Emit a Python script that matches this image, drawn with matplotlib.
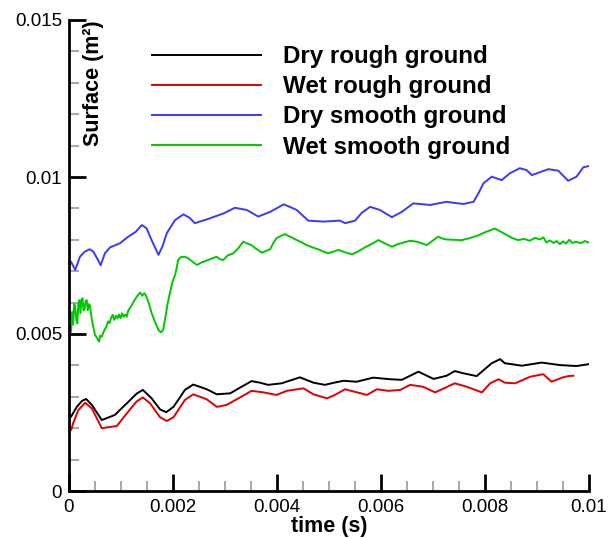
import matplotlib
matplotlib.use("Agg")
import matplotlib.pyplot as plt
from matplotlib.ticker import MultipleLocator

plt.rcParams['font.family'] = ['Liberation Sans', 'DejaVu Sans']

# Dry smooth ground
t_dry_smooth = [0.00000, 0.00004, 0.00012, 0.00021, 0.00030, 0.00040, 0.00047, 0.00055, 0.00061, 0.00069,
                0.00079, 0.00098, 0.00114, 0.00128, 0.00140, 0.00149, 0.00160, 0.00172, 0.00180, 0.00188,
                0.00204, 0.00220, 0.00232, 0.00242, 0.00265, 0.00297, 0.00319, 0.00342, 0.00364, 0.00387,
                0.00413, 0.00438, 0.00460, 0.00489, 0.00510, 0.00521, 0.00531, 0.00550, 0.00563, 0.00579,
                0.00598, 0.00621, 0.00640, 0.00662, 0.00694, 0.00726, 0.00758, 0.00778, 0.00788, 0.00797,
                0.00813, 0.00832, 0.00848, 0.00867, 0.00880, 0.00890, 0.00922, 0.00941, 0.00960, 0.00976,
                0.00989, 0.01000]
s_dry_smooth = [7.15, 7.30, 7.04, 7.46, 7.62, 7.70, 7.62, 7.38, 7.19, 7.57,
                7.76, 7.89, 8.10, 8.25, 8.47, 8.37, 7.95, 7.52, 7.80, 8.21,
                8.63, 8.81, 8.70, 8.53, 8.65, 8.84, 9.02, 8.95, 8.74, 8.89,
                9.13, 8.95, 8.61, 8.58, 8.60, 8.61, 8.53, 8.61, 8.86, 9.05,
                8.95, 8.72, 8.89, 9.16, 9.11, 9.21, 9.14, 9.21, 9.50, 9.80,
                10.01, 9.90, 10.12, 10.28, 10.22, 10.06, 10.25, 10.20, 9.88, 10.01,
                10.31, 10.35]

# Wet smooth ground (noisy signal)
t_wet_smooth = [0.00000, 0.00002, 0.00004, 0.00006, 0.00008, 0.00010, 0.00012, 0.00014, 0.00016, 0.00018,
                0.00020, 0.00022, 0.00024, 0.00026, 0.00028, 0.00030, 0.00032, 0.00034, 0.00036, 0.00038,
                0.00040, 0.00042, 0.00044, 0.00047, 0.00050, 0.00053, 0.00056, 0.00058, 0.00060, 0.00063,
                0.00066, 0.00069, 0.00072, 0.00075, 0.00078, 0.00081, 0.00084, 0.00087, 0.00090, 0.00093,
                0.00096, 0.00099, 0.00102, 0.00105, 0.00108, 0.00111, 0.00114, 0.00117, 0.00121, 0.00125,
                0.00129, 0.00133, 0.00137, 0.00141, 0.00145, 0.00149, 0.00154, 0.00159, 0.00165, 0.00172,
                0.00177, 0.00181, 0.00186, 0.00190, 0.00194, 0.00199, 0.00204, 0.00207, 0.00210, 0.00215,
                0.00223, 0.00230, 0.00238, 0.00246, 0.00255, 0.00265, 0.00274, 0.00284, 0.00290, 0.00297,
                0.00305, 0.00316, 0.00325, 0.00335, 0.00343, 0.00351, 0.00361, 0.00371, 0.00379, 0.00387,
                0.00393, 0.00399, 0.00407, 0.00415, 0.00425, 0.00438, 0.00447, 0.00457, 0.00468, 0.00479,
                0.00490, 0.00499, 0.00508, 0.00518, 0.00531, 0.00544, 0.00555, 0.00566, 0.00580, 0.00595,
                0.00608, 0.00621, 0.00632, 0.00643, 0.00656, 0.00669, 0.00680, 0.00688, 0.00700, 0.00710,
                0.00718, 0.00726, 0.00740, 0.00755, 0.00770, 0.00784, 0.00800, 0.00819, 0.00830, 0.00842,
                0.00853, 0.00864, 0.00875, 0.00886, 0.00896, 0.00906, 0.00912, 0.00918, 0.00925, 0.00932,
                0.00938, 0.00944, 0.00950, 0.00956, 0.00962, 0.00968, 0.00976, 0.00984, 0.00992, 0.01000]
s_wet_smooth = [5.00, 5.60, 5.07, 5.70, 5.30, 5.95, 5.87, 5.45, 5.34, 5.95,
                6.08, 5.66, 6.10, 6.14, 5.75, 5.82, 6.05, 6.08, 5.76, 5.95,
                5.92, 5.70, 5.45, 5.20, 4.97, 4.90, 4.80, 4.76, 4.95, 4.91,
                5.05, 5.15, 5.23, 5.40, 5.35, 5.52, 5.61, 5.45, 5.58, 5.50,
                5.62, 5.50, 5.66, 5.55, 5.62, 5.55, 5.75, 5.82, 5.92, 6.05,
                6.15, 6.25, 6.32, 6.22, 6.30, 6.19, 5.95, 5.66, 5.40, 5.13,
                5.05, 5.13, 5.60, 6.00, 6.30, 6.65, 6.88, 7.10, 7.36, 7.45,
                7.46, 7.40, 7.30, 7.20, 7.28, 7.34, 7.40, 7.46, 7.38, 7.36,
                7.50, 7.57, 7.72, 7.94, 7.88, 7.83, 7.70, 7.59, 7.65, 7.70,
                7.90, 8.05, 8.12, 8.18, 8.10, 7.99, 7.92, 7.83, 7.76, 7.70,
                7.62, 7.57, 7.62, 7.68, 7.60, 7.54, 7.62, 7.73, 7.85, 7.99,
                7.88, 7.78, 7.86, 7.91, 7.97, 7.94, 7.88, 7.83, 7.98, 8.10,
                8.04, 8.01, 8.00, 7.99, 8.05, 8.12, 8.24, 8.36, 8.26, 8.15,
                8.05, 7.99, 8.03, 7.97, 8.06, 8.01, 8.08, 7.92, 7.98, 7.90,
                7.96, 7.86, 7.95, 7.88, 8.00, 7.90, 7.94, 7.89, 7.96, 7.91]

# Dry rough ground
t_dry_rough = [0.00000, 0.00004, 0.00015, 0.00025, 0.00033, 0.00044, 0.00063, 0.00088, 0.00111, 0.00130,
               0.00142, 0.00159, 0.00175, 0.00187, 0.00201, 0.00223, 0.00239, 0.00265, 0.00284, 0.00310,
               0.00332, 0.00351, 0.00367, 0.00383, 0.00409, 0.00444, 0.00470, 0.00492, 0.00510, 0.00528,
               0.00553, 0.00585, 0.00617, 0.00640, 0.00672, 0.00701, 0.00726, 0.00742, 0.00758, 0.00784,
               0.00813, 0.00829, 0.00838, 0.00871, 0.00909, 0.00944, 0.00976, 0.01000]
s_dry_rough = [2.30, 2.37, 2.68, 2.87, 2.93, 2.74, 2.26, 2.42, 2.79, 3.10,
               3.22, 2.95, 2.60, 2.51, 2.68, 3.22, 3.39, 3.24, 3.08, 3.11,
               3.32, 3.50, 3.45, 3.38, 3.43, 3.62, 3.45, 3.38, 3.45, 3.51,
               3.48, 3.61, 3.56, 3.54, 3.80, 3.57, 3.67, 3.82, 3.75, 3.66,
               4.07, 4.20, 4.07, 3.99, 4.09, 4.01, 3.98, 4.04]

# Wet rough ground
t_wet_rough = [0.00000, 0.00004, 0.00008, 0.00018, 0.00031, 0.00044, 0.00063, 0.00092, 0.00111, 0.00130,
               0.00142, 0.00156, 0.00175, 0.00188, 0.00201, 0.00223, 0.00239, 0.00265, 0.00284, 0.00303,
               0.00329, 0.00351, 0.00374, 0.00399, 0.00419, 0.00451, 0.00470, 0.00496, 0.00510, 0.00531,
               0.00573, 0.00592, 0.00614, 0.00637, 0.00656, 0.00681, 0.00704, 0.00742, 0.00765, 0.00794,
               0.00810, 0.00826, 0.00838, 0.00858, 0.00887, 0.00912, 0.00928, 0.00950, 0.00960, 0.00970]
s_wet_rough = [1.90, 1.94, 2.16, 2.58, 2.81, 2.63, 2.00, 2.07, 2.47, 2.85,
               2.98, 2.79, 2.35, 2.23, 2.35, 2.90, 3.08, 2.92, 2.68, 2.74,
               2.98, 3.19, 3.14, 3.06, 3.19, 3.27, 3.08, 2.95, 3.05, 3.24,
               3.06, 3.24, 3.19, 3.22, 3.38, 3.32, 3.14, 3.43, 3.32, 3.14,
               3.43, 3.56, 3.45, 3.43, 3.64, 3.72, 3.48, 3.62, 3.66, 3.67]

series = [
    ("Dry rough ground", t_dry_rough, s_dry_rough, "#000000"),
    ("Wet rough ground", t_wet_rough, s_wet_rough, "#e00000"),
    ("Dry smooth ground", t_dry_smooth, s_dry_smooth, "#3a3aff"),
    ("Wet smooth ground", t_wet_smooth, s_wet_smooth, "#00c800"),
]

fig = plt.figure(figsize=(6.14, 5.38), dpi=100)
ax = fig.add_axes([69 / 614, 1 - 491 / 538, 520 / 614, 471 / 538])

for label, t, s, color in series:
    ax.plot(t, [v * 1e-3 for v in s], color=color, lw=1.4, label=label)

ax.set_xlim(0, 0.01)
ax.set_ylim(0, 0.015)

for side in ("top", "right"):
    ax.spines[side].set_visible(False)
for side in ("left", "bottom"):
    ax.spines[side].set_linewidth(2)

ax.xaxis.set_major_locator(MultipleLocator(0.002))
ax.xaxis.set_minor_locator(MultipleLocator(0.0005))
ax.yaxis.set_major_locator(MultipleLocator(0.005))
ax.yaxis.set_minor_locator(MultipleLocator(0.001))
fmt = plt.FuncFormatter(lambda v, p: "0" if v == 0 else f"{v:g}")
ax.xaxis.set_major_formatter(fmt)
ax.yaxis.set_major_formatter(fmt)

ax.tick_params(which="major", direction="in", length=12, width=2, color="black",
               labelsize=13.5)
ax.tick_params(axis="x", which="major", pad=6)
ax.tick_params(axis="y", which="major", pad=5)
ax.tick_params(which="minor", direction="in", length=7, width=1.2, color="#999999")

ax.set_xlabel("time (s)", fontsize=15.5, fontweight="bold", labelpad=0)
ax.text(0.047, 0.866, "Surface (m²)", transform=ax.transAxes, rotation=90,
        fontsize=15.5, fontweight="bold", ha="center", va="center")

ax.legend(loc="upper left", bbox_to_anchor=(83 / 520, 1 - 25 / 471), frameon=False,
          prop={"weight": "bold", "size": 17.4}, handlelength=4.5,
          handletextpad=0.92, labelspacing=0.3, borderpad=0, borderaxespad=0)

fig.savefig("out.png", dpi=100)
